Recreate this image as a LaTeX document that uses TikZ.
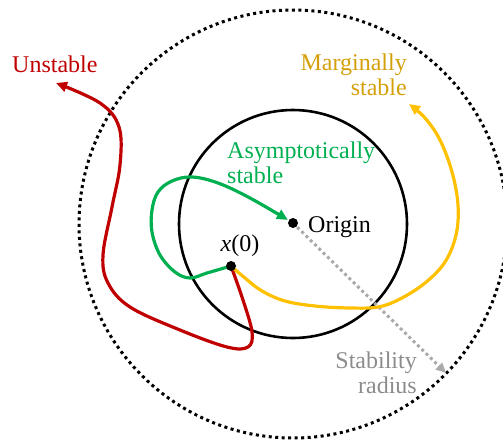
\documentclass[tikz,border=0pt]{standalone}
\usepackage{fontspec}
\setmainfont{Liberation Serif}
\usetikzlibrary{arrows.meta}
\definecolor{unstab}{RGB}{192,0,0}
\definecolor{asym}{RGB}{0,176,80}
\definecolor{marg}{RGB}{255,192,0}
\definecolor{margtext}{RGB}{212,160,10}
\definecolor{radtext}{RGB}{140,140,140}
\definecolor{radline}{RGB}{170,170,170}
\begin{document}
\begin{tikzpicture}[x=1pt,y=-1pt,
  lbl/.style={font=\fontsize{24}{25}\selectfont, inner sep=0pt},
  dot/.style={circle, fill=black, inner sep=0pt, minimum size=10pt},
  traj/.style={line width=3.2pt, line cap=round, line join=round,
    -{Triangle[length=11pt,width=10pt]}},
  ]
\path[use as bounding box, clip] (0,0) rectangle (503,440);

% stability regions
\coordinate (c) at (293,224);
\draw[line width=3pt, dash pattern=on 3pt off 3.5pt] (c) circle[radius=214];
\draw[line width=2.6pt] (c) circle[radius=114];

% point positions (dots are drawn last, on top of the trajectories)
\coordinate (o) at (293,223);
\coordinate (start) at (231,266);

% stability radius
\coordinate (rim) at (446,373);
\draw[radline, line width=3pt, dash pattern=on 3pt off 3pt,
  -{Triangle[length=10pt,width=9pt]}, shorten <=6pt] (o) -- (rim);

% trajectories
\draw[traj, unstab] plot[smooth, tension=0.6] coordinates {
  (start) (243,300) (252,332) (248,347) (227,347) (180,330) (130,307)
  (108,283) (103,255) (112,207) (120,165) (119,127) (100,103) (56,83)};
\draw[traj, asym, shorten >=6pt] plot[smooth, tension=0.6] coordinates {
  (start) (207,273) (190,278) (175,272) (160,255) (152,232) (152,210)
  (158,192) (172,181) (192,177) (218,183) (250,198) (o)};
\draw[traj, marg] plot[smooth, tension=0.6] coordinates {
  (start) (245,278) (262,291) (285,301) (315,306) (350,308) (378,307)
  (400,299) (425,283) (445,262) (456,235) (458,205) (452,172) (440,140)
  (425,118) (409,104)};

% points
\node[dot] (origin) at (o) {};
\node[dot] (x0) at (start) {};

% labels (base anchor sits on the last line of a multi-line node)
\node[lbl, anchor=base west, text=unstab] (lu) at (12,72) {Unstable};
\node[lbl, anchor=base east, align=right, text=margtext] (lm) at (407,95) {Marginally\\stable};
\node[lbl, anchor=base west, align=left, text=asym] (la) at (227,183) {Asymptotically\\stable};
\node[lbl, anchor=base west] (lo) at (308,232) {Origin};
\node[lbl, anchor=base] (lx) at (240,251) {\textit{x}(0)};
\node[lbl, anchor=base east, align=right, text=radtext] (lr) at (417,393) {Stability\\radius};
\end{tikzpicture}
\end{document}
